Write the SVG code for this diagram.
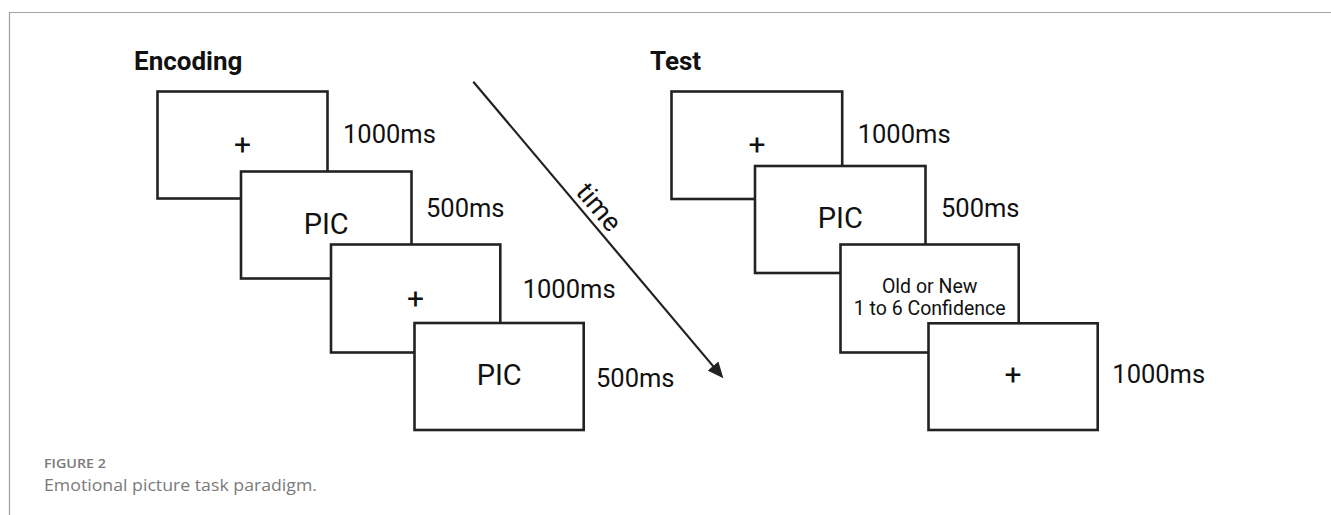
<svg xmlns="http://www.w3.org/2000/svg" width="1331" height="515" viewBox="0 0 1331 515">
<style>
.box{fill:#fff;stroke:#222;stroke-width:2.6;stroke-linejoin:miter}
.t{font-family:Roboto,"Liberation Sans",sans-serif;fill:#111}
.ms{font-size:25.5px}
.pic{font-size:29px;text-anchor:middle}
.plus{font-size:30px;text-anchor:middle}
.head{font-size:26px;font-weight:bold}
.small{font-size:19.5px;text-anchor:middle}
.cap{font-family:"Open Sans",Lato,"Liberation Sans",sans-serif;fill:#7a7a7a}
</style>
<defs>
<marker id="ah" viewBox="0 0 16 14" refX="6" refY="7" markerWidth="16" markerHeight="14" markerUnits="userSpaceOnUse" orient="auto">
<path d="M0,0 L16,7 L0,14 z" fill="#222"/>
</marker>
</defs>
<rect width="1331" height="515" fill="#fff"/>
<g id="frame" fill="none" stroke="#a0a0a0" stroke-width="1.2">
<path d="M9.5,515 V12.5 H1331"/>
</g>
<text class="t head" x="134" y="70">Encoding</text>
<text class="t head" x="650" y="70">Test</text>
<g id="enc1"><rect class="box" x="157.5" y="91.5" width="170" height="107"/><text class="t plus" x="242.5" y="155">+</text><text class="t ms" x="343" y="143.3">1000ms</text></g>
<g id="enc2"><rect class="box" x="241" y="171.5" width="170.5" height="107"/><text class="t pic" x="326.2" y="234">PIC</text><text class="t ms" x="426" y="216.7">500ms</text></g>
<g id="enc3"><rect class="box" x="331" y="244.5" width="169.3" height="108"/><text class="t plus" x="415.6" y="308.5">+</text><text class="t ms" x="522.7" y="298.3">1000ms</text></g>
<g id="enc4"><rect class="box" x="414.5" y="323" width="169.2" height="107"/><text class="t pic" x="499.2" y="385">PIC</text><text class="t ms" x="596" y="386.7">500ms</text></g>
<g id="test1"><rect class="box" x="671.5" y="91.5" width="170.7" height="107.5"/><text class="t plus" x="757" y="155">+</text><text class="t ms" x="857.7" y="143.3">1000ms</text></g>
<g id="test2"><rect class="box" x="755" y="166" width="170.5" height="107"/><text class="t pic" x="840.3" y="227.7">PIC</text><text class="t ms" x="941" y="216.7">500ms</text></g>
<g id="test3"><rect class="box" x="840.5" y="244.5" width="178.2" height="108"/><text class="t small" x="929.7" y="293.3">Old or New</text><text class="t small" x="929.7" y="315">1 to 6 Confidence</text></g>
<g id="test4"><rect class="box" x="928.5" y="323.3" width="169.2" height="106.7"/><text class="t plus" x="1013" y="385">+</text><text class="t ms" x="1112.3" y="383.3">1000ms</text></g>
<g id="connectors">
<line x1="473.3" y1="81.7" x2="716.9" y2="370.6" stroke="#222" stroke-width="2.2" marker-end="url(#ah)"/>
<text class="t" font-size="27" text-anchor="middle" transform="translate(592,213) rotate(49.9)">time</text>
</g>
<text class="cap" x="44" y="468.3" font-size="12.5" font-weight="600" textLength="62" lengthAdjust="spacingAndGlyphs">FIGURE 2</text>
<text class="cap" x="44" y="490.7" font-size="17" textLength="273" lengthAdjust="spacingAndGlyphs">Emotional picture task paradigm.</text>
</svg>
